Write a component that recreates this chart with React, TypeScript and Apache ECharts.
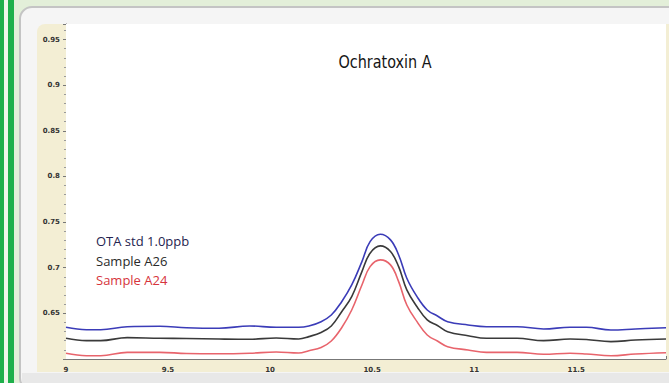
import React, { useEffect, useRef } from "react";
import * as echarts from "echarts";

const titleText = "Ochratoxin A";
const legendNames = ["OTA std 1.0ppb", "Sample A26", "Sample A24"];
const legendColors = ["#25234f", "#2a2a2a", "#d6343c"];
const lineColors = ["#3b3cb8", "#3a3a3a", "#e8646c"];

const xTickLabels = ["9", "9.5", "10", "10.5", "11", "11.5"];
const yTickLabels = ["0.65", "0.7", "0.75", "0.8", "0.85", "0.9", "0.95"];

const xs = [
  9.0, 9.1, 9.17, 9.3, 9.46, 9.59, 9.75, 9.9, 10.03, 10.14, 10.19, 10.25, 10.3,
  10.35, 10.4, 10.45, 10.49, 10.54, 10.59, 10.63, 10.67, 10.72, 10.77, 10.82,
  10.87, 10.97, 11.06, 11.21, 11.34, 11.47, 11.55, 11.67, 11.79, 11.94,
];

const otaStd = [
  0.6348, 0.6321, 0.6321, 0.6354, 0.6359, 0.6343, 0.6337, 0.6362, 0.6348,
  0.6348, 0.6362, 0.6409, 0.6482, 0.6625, 0.6811, 0.7067, 0.7286, 0.7367,
  0.7305, 0.714, 0.6885, 0.6683, 0.6537, 0.6471, 0.6409, 0.6373, 0.6354,
  0.6354, 0.6329, 0.6348, 0.6348, 0.6318, 0.6329, 0.6343,
];

const sampleA26 = [
  0.6227, 0.6201, 0.6201, 0.6234, 0.6227, 0.6225, 0.6219, 0.6216, 0.623,
  0.6219, 0.6245, 0.6291, 0.6362, 0.6515, 0.6683, 0.6957, 0.7159, 0.7239,
  0.7177, 0.7012, 0.6757, 0.6573, 0.6428, 0.6367, 0.6299, 0.6255, 0.6227,
  0.6227, 0.6201, 0.6219, 0.6214, 0.619, 0.6208, 0.6219,
];

const sampleA24 = [
  0.6063, 0.6036, 0.6036, 0.6073, 0.6073, 0.606, 0.6057, 0.6063, 0.6077,
  0.6066, 0.6091, 0.6126, 0.6197, 0.634, 0.6537, 0.6811, 0.7012, 0.7086,
  0.7031, 0.6848, 0.6592, 0.6409, 0.6263, 0.6197, 0.6135, 0.6099, 0.6073,
  0.6073, 0.6052, 0.6063, 0.6055, 0.6036, 0.6055, 0.6069,
];

const seriesValues = [otaStd, sampleA26, sampleA24];

function matchLabel(v: number, list: string[]): string {
  for (const l of list) {
    if (Math.abs(parseFloat(l) - v) < 1e-6) return l;
  }
  return "";
}

export default function App() {
  const ref = useRef<HTMLDivElement>(null);

  useEffect(() => {
    if (!ref.current) return;
    const chart = echarts.init(ref.current, null, { renderer: "svg" });
    const W = 669;
    const H = 383;
    const option: any = {
      animation: false,
      backgroundColor: "#e3efd9",
      grid: {
        left: 66,
        top: 24,
        right: 0,
        bottom: 24,
        show: true,
        backgroundColor: "#ffffff",
        borderWidth: 0,
        z: 1,
      },
      xAxis: {
        type: "value",
        min: 9,
        max: 11.94,
        interval: 0.5,
        splitLine: { show: false },
        axisLine: { show: true, lineStyle: { color: "#777", width: 1 } },
        axisTick: { show: true, inside: true, length: 3, lineStyle: { color: "#777" } },
        minorTick: { show: true, splitNumber: 5, length: 2, lineStyle: { color: "#888" } },
        axisLabel: {
          fontSize: 7,
          fontWeight: "bold",
          color: "#333",
          margin: 7,
          fontFamily: "DejaVu Sans",
          formatter: (v: number) => matchLabel(v, xTickLabels),
        },
      },
      yAxis: {
        type: "value",
        min: 0.6,
        max: 0.967,
        interval: 0.05,
        splitLine: { show: false },
        axisLine: { show: true, lineStyle: { color: "#666", width: 1 } },
        axisTick: { show: true, length: 3, lineStyle: { color: "#777" } },
        minorTick: { show: true, splitNumber: 5, length: 2, lineStyle: { color: "#999" } },
        axisLabel: {
          fontSize: 7,
          fontWeight: "bold",
          color: "#333",
          margin: 6,
          fontFamily: "DejaVu Sans",
          formatter: (v: number) => matchLabel(v, yTickLabels),
        },
      },
      series: seriesValues.map((vals, i) => ({
        type: "line",
        name: legendNames[i],
        data: xs.map((x, j) => [x, vals[j]]),
        showSymbol: false,
        smooth: 0.4,
        lineStyle: { color: lineColors[i], width: 1.6 },
        itemStyle: { color: lineColors[i] },
        z: 5,
      })),
      graphic: [
        { type: "rect", z: -10, silent: true, shape: { x: 0, y: 0, width: 4, height: H }, style: { fill: "#1eb04b" } },
        { type: "rect", z: -10, silent: true, shape: { x: 4, y: 0, width: 4, height: H }, style: { fill: "#eef7ea" } },
        { type: "rect", z: -10, silent: true, shape: { x: 8, y: 0, width: 6, height: H }, style: { fill: "#1eb04b" } },
        {
          type: "rect",
          z: -10,
          silent: true,
          shape: { x: 20, y: 7, width: W, height: H, r: 12 },
          style: { fill: "#f5f5f5", stroke: "#c4c4c4", lineWidth: 2 },
        },
        {
          type: "rect",
          z: -9,
          silent: true,
          shape: { x: 37, y: 24, width: W, height: 348, r: [8, 0, 0, 0] },
          style: { fill: "#f3eed4" },
        },
        {
          type: "rect",
          z: -9,
          silent: true,
          shape: { x: 22, y: 373, width: W, height: 12 },
          style: { fill: "#e8e8e8" },
        },
        {
          type: "text",
          z: 20,
          x: 385,
          y: 62,
          scaleX: 0.8,
          style: {
            text: titleText,
            fill: "#151515",
            font: "18px 'DejaVu Sans', sans-serif",
            textAlign: "center",
            textVerticalAlign: "middle",
          },
        },
        ...legendNames.map((name, i) => ({
          type: "text",
          z: 20,
          x: 96,
          y: 241 + i * 19.5,
          style: {
            text: name,
            fill: legendColors[i],
            font: "500 13px 'Open Sans', sans-serif",
            textAlign: "left",
            textVerticalAlign: "middle",
          },
        })),
      ],
    };
    chart.setOption(option);
    return () => chart.dispose();
  }, []);

  return (
    <div
      ref={ref}
      style={{ position: "fixed", left: 0, top: 0, width: 669, height: 383 }}
    />
  );
}
